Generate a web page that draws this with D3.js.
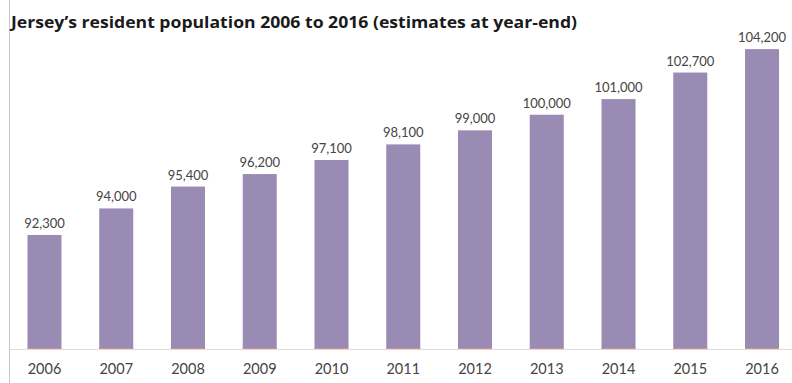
<!DOCTYPE html>
<html>
<head>
<meta charset="utf-8">
<script src="https://cdn.jsdelivr.net/npm/d3@7/dist/d3.min.js"></script>
<style>
  html, body { margin: 0; padding: 0; background: #fff; }
  svg { display: block; }
</style>
</head>
<body>
<svg id="chart" width="792" height="383"></svg>
<script>
// Jersey resident population, year-end estimates
const years = ["2006", "2007", "2008", "2009", "2010", "2011", "2012", "2013", "2014", "2015", "2016"];
const population = [92300, 94000, 95400, 96200, 97100, 98100, 99000, 100000, 101000, 102700, 104200];
const title = "Jersey\u2019s resident population 2006 to 2016 (estimates at year-end)";

const W = 792, H = 383;
const svg = d3.select("#chart");
const FONT = "Lato, 'Open Sans', sans-serif";

const x = d3.scaleBand()
  .domain(years)
  .range([8.6, 797.9])
  .paddingInner(0.526)
  .paddingOuter(0.263);

const y = d3.scaleLinear()
  .domain([85000, 106000])
  .range([349, 21]);

// left rule
svg.append("line")
  .attr("x1", 9.5).attr("x2", 9.5)
  .attr("y1", 0).attr("y2", H)
  .attr("stroke", "#c9c6cf").attr("stroke-width", 1);

// title
svg.append("text")
  .attr("x", 11).attr("y", 28)
  .attr("font-family", "'Open Sans', sans-serif")
  .attr("font-weight", 700)
  .attr("font-size", 15.5)
  .attr("fill", "#1a1a1a")
  .attr("textLength", 566)
  .attr("lengthAdjust", "spacingAndGlyphs")
  .text(title);

// bars
const bars = svg.append("g");
bars.selectAll("rect")
  .data(population)
  .join("rect")
  .attr("x", (d, i) => x(years[i]))
  .attr("width", x.bandwidth())
  .attr("y", d => y(d))
  .attr("height", d => y.range()[0] - y(d))
  .attr("fill", "#9a8bb5");

// thin accent at each bar foot
bars.selectAll("line")
  .data(population)
  .join("line")
  .attr("x1", (d, i) => x(years[i]))
  .attr("x2", (d, i) => x(years[i]) + x.bandwidth())
  .attr("y1", 348.5).attr("y2", 348.5)
  .attr("stroke", "#d88a8f").attr("stroke-width", 1);

// baseline + year axis
const xAxis = d3.axisBottom(x).tickSize(0).tickPadding(14);
const ax = svg.append("g")
  .attr("transform", "translate(0,349.5)")
  .call(xAxis);
ax.select(".domain")
  .attr("d", "M10,0H792")
  .attr("stroke", "#dcdcdc");
ax.selectAll("text")
  .attr("font-family", FONT)
  .attr("font-size", 14.5)
  .attr("fill", "#444");

// value labels
const fmt = d3.format(",");
svg.append("g").selectAll("text")
  .data(population)
  .join("text")
  .attr("x", (d, i) => x(years[i]) + x.bandwidth() / 2)
  .attr("y", d => y(d) - 7)
  .attr("text-anchor", "middle")
  .attr("font-family", FONT)
  .attr("font-size", 13)
  .attr("fill", "#444")
  .text(d => fmt(d));
</script>
</body>
</html>
